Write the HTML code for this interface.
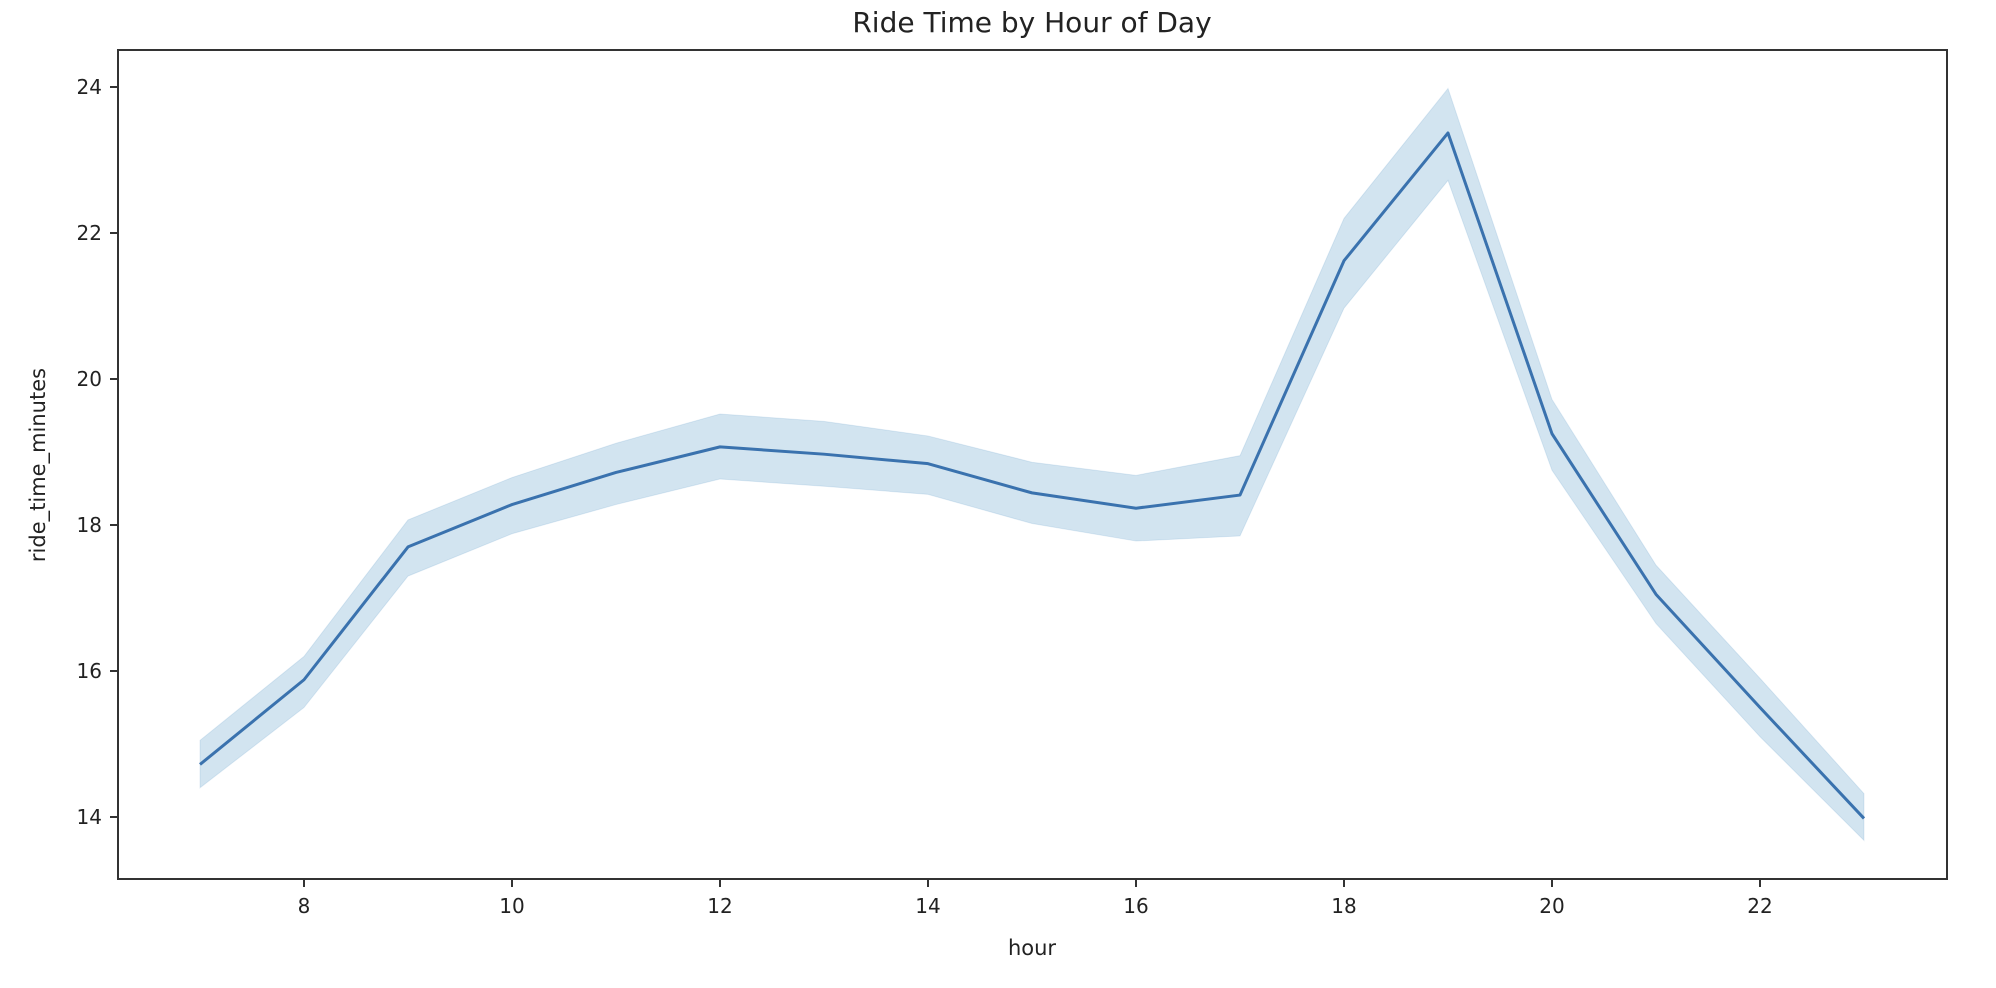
<!DOCTYPE html>
<html><head><meta charset="utf-8"><style>
html,body{margin:0;padding:0;background:#fff;}
svg{display:block;font-family:"DejaVu Sans","Liberation Sans",sans-serif;}
</style></head><body>
<svg id="chart" width="1996" height="988" viewBox="0 0 1996 988">
<text x="1032" y="32" font-size="28" text-anchor="middle" fill="#222">Ride Time by Hour of Day</text>
<g id="band-g"></g>
<g id="line-g"></g>
<g id="xticks"></g>
<g id="yticks"></g>
<rect x="118" y="50" width="1829" height="829" fill="none" stroke="#333" stroke-width="2"/>
<text x="1032" y="955" font-size="21" text-anchor="middle" fill="#222">hour</text>
<text x="0" y="0" font-size="21" text-anchor="middle" fill="#222" transform="translate(45,465) rotate(-90)">ride_time_minutes</text>
</svg>
<script>
const hours = [7,8,9,10,11,12,13,14,15,16,17,18,19,20,21,22,23];
const meanValues = [14.72,15.88,17.70,18.28,18.72,19.07,18.97,18.84,18.44,18.23,18.41,21.62,23.37,19.25,17.05,15.50,13.98];
const lowerValues = [14.40,15.50,17.30,17.88,18.28,18.63,18.53,18.42,18.02,17.78,17.85,20.97,22.72,18.75,16.65,15.10,13.68];
const upperValues = [15.05,16.20,18.07,18.65,19.12,19.52,19.42,19.22,18.86,18.68,18.95,22.20,23.98,19.72,17.45,15.90,14.32];
const xTickLabels = [8,10,12,14,16,18,20,22];
const yTickLabels = [14,16,18,20,22,24];

const NS = "http://www.w3.org/2000/svg";
function xScale(h){ return 200 + (h - 7) * 104; }
function yScale(v){ return 379 - (v - 20) * 73; }

const bandG = document.getElementById('band-g');
let pts = hours.map((h,i)=>xScale(h)+','+yScale(upperValues[i]));
for(let i=hours.length-1;i>=0;i--) pts.push(xScale(hours[i])+','+yScale(lowerValues[i]));
const band = document.createElementNS(NS,'polygon');
band.setAttribute('points', pts.join(' '));
band.setAttribute('fill','#1f77b4');
band.setAttribute('fill-opacity','0.2');
band.setAttribute('stroke','#1f77b4');
band.setAttribute('stroke-opacity','0.12');


bandG.appendChild(band);

const lineG = document.getElementById('line-g');
const line = document.createElementNS(NS,'polyline');
line.setAttribute('points', hours.map((h,i)=>xScale(h)+','+yScale(meanValues[i])).join(' '));
line.setAttribute('fill','none');
line.setAttribute('stroke','#3a72ae');
line.setAttribute('stroke-width','3');
line.setAttribute('stroke-linejoin','round');


lineG.appendChild(line);

const xg = document.getElementById('xticks');
xTickLabels.forEach(t=>{
  const x = xScale(t);
  const l = document.createElementNS(NS,'line');
  l.setAttribute('x1',x); l.setAttribute('x2',x); l.setAttribute('y1',879); l.setAttribute('y2',887);
  l.setAttribute('stroke','#333'); l.setAttribute('stroke-width','2');
  
  
  xg.appendChild(l);
  const tx = document.createElementNS(NS,'text');
  tx.setAttribute('x',x); tx.setAttribute('y',913);
  tx.setAttribute('font-size','20'); tx.setAttribute('text-anchor','middle'); tx.setAttribute('fill','#222');
  tx.textContent = t;
  
  
  xg.appendChild(tx);
});
const yg = document.getElementById('yticks');
yTickLabels.forEach(t=>{
  const y = yScale(t);
  const l = document.createElementNS(NS,'line');
  l.setAttribute('x1',110); l.setAttribute('x2',118); l.setAttribute('y1',y); l.setAttribute('y2',y);
  l.setAttribute('stroke','#333'); l.setAttribute('stroke-width','2');
  
  
  yg.appendChild(l);
  const tx = document.createElementNS(NS,'text');
  tx.setAttribute('x',102); tx.setAttribute('y',y+7);
  tx.setAttribute('font-size','20'); tx.setAttribute('text-anchor','end'); tx.setAttribute('fill','#222');
  tx.textContent = t;
  
  
  yg.appendChild(tx);
});
</script>
</body></html>
